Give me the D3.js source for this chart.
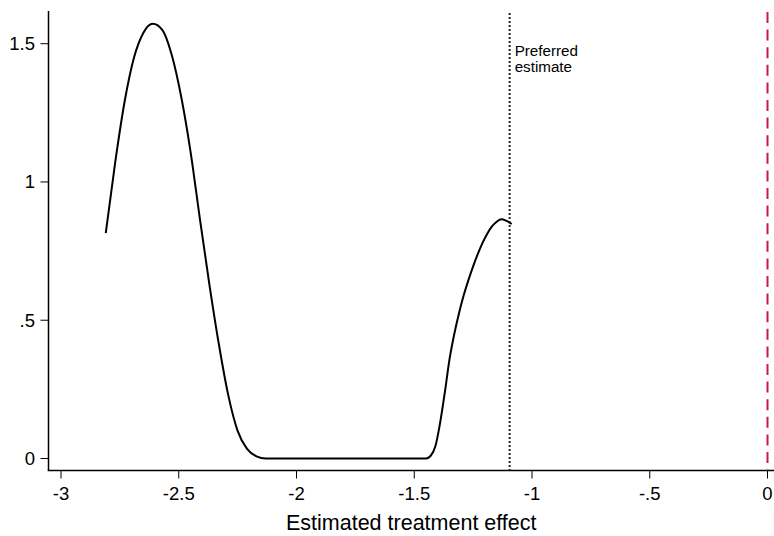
<!DOCTYPE html>
<html>
<head>
<meta charset="utf-8">
<script src="https://cdn.jsdelivr.net/npm/d3@7"></script>
<style>
  body { margin: 0; background: #fff; }
  svg { display: block; font-family: "Liberation Sans", Arial, sans-serif; }
</style>
</head>
<body>
<div id="main"></div>
<script>
// Density of estimated treatment effects
const effectX = [-2.81, -2.77, -2.73, -2.69, -2.65, -2.61, -2.57, -2.53, -2.49, -2.45,
    -2.41, -2.37, -2.33, -2.29, -2.25, -2.21, -2.17, -2.13, -1.9, -1.7,
    -1.45, -1.43, -1.41, -1.39, -1.37, -1.35, -1.33, -1.31, -1.29, -1.27,
    -1.25, -1.23, -1.21, -1.19, -1.17, -1.15, -1.13, -1.11, -1.086];
const density = [0.815, 1.07, 1.29, 1.45, 1.54, 1.572, 1.55, 1.46, 1.31, 1.11,
    0.865, 0.63, 0.415, 0.23, 0.10, 0.035, 0.008, 0, 0, 0,
    0, 0.01, 0.045, 0.13, 0.24, 0.36, 0.45, 0.525, 0.59, 0.645,
    0.695, 0.74, 0.78, 0.813, 0.839, 0.856, 0.865, 0.86, 0.848];

const xTicks = [-3, -2.5, -2, -1.5, -1, -0.5, 0];
const xTickLabels = ['-3', '-2.5', '-2', '-1.5', '-1', '-.5', '0'];
const yTicks = [0, 0.5, 1, 1.5];
const yTickLabels = ['0', '.5', '1', '1.5'];

const preferred = -1.095;
const zeroLine = 0;

const w = 774;
const h = 536;
const axisX = 48.5;
const axisY = 470.5;

const svg = d3.select('#main')
    .append('svg')
    .attr('width', w)
    .attr('height', h);

const xScale = d3.scaleLinear()
    .domain([-3, 0])
    .range([61, 767.5]);

const yScale = d3.scaleLinear()
    .domain([0, 1.5])
    .range([458.5, 43.7]);

// y axis
svg.append('line')
    .attr('x1', axisX).attr('x2', axisX)
    .attr('y1', 11).attr('y2', axisY)
    .attr('stroke', '#000').attr('stroke-width', 1.5);

svg.selectAll('.ytick')
    .data(yTicks)
    .enter()
    .append('line')
    .attr('x1', axisX - 8).attr('x2', axisX)
    .attr('y1', (d) => yScale(d)).attr('y2', (d) => yScale(d))
    .attr('stroke', '#000').attr('stroke-width', 1);

svg.selectAll('.ylab')
    .data(yTicks)
    .enter()
    .append('text')
    .attr('x', 35)
    .attr('y', (d) => yScale(d))
    .attr('dy', '0.35em')
    .attr('text-anchor', 'end')
    .style('font-size', '18.5px')
    .text((d, i) => yTickLabels[i]);

// x axis
svg.append('line')
    .attr('x1', axisX - 0.75).attr('x2', w)
    .attr('y1', axisY).attr('y2', axisY)
    .attr('stroke', '#000').attr('stroke-width', 1.5);

svg.selectAll('.xtick')
    .data(xTicks)
    .enter()
    .append('line')
    .attr('x1', (d) => xScale(d)).attr('x2', (d) => xScale(d))
    .attr('y1', axisY).attr('y2', axisY + 8)
    .attr('stroke', '#000').attr('stroke-width', 1);

svg.selectAll('.xlab')
    .data(xTicks)
    .enter()
    .append('text')
    .attr('x', (d) => xScale(d))
    .attr('y', 500)
    .attr('text-anchor', 'middle')
    .style('font-size', '18.5px')
    .text((d, i) => xTickLabels[i]);

svg.append('text')
    .attr('x', (axisX + w) / 2)
    .attr('y', 529.5)
    .attr('text-anchor', 'middle')
    .style('font-size', '21.5px')
    .text('Estimated treatment effect');

// reference lines
svg.append('line')
    .attr('x1', xScale(zeroLine)).attr('x2', xScale(zeroLine))
    .attr('y1', 12).attr('y2', axisY)
    .attr('stroke', '#c8174b').attr('stroke-width', 2)
    .attr('stroke-dasharray', '11,6.6');

svg.append('line')
    .attr('x1', xScale(preferred)).attr('x2', xScale(preferred))
    .attr('y1', 13).attr('y2', axisY)
    .attr('stroke', '#222').attr('stroke-width', 2)
    .attr('stroke-dasharray', '2,2');

const note = svg.append('text')
    .attr('x', xScale(preferred) + 5)
    .attr('y', 56)
    .style('font-size', '15.2px');
note.append('tspan').attr('x', xScale(preferred) + 5).text('Preferred');
note.append('tspan').attr('x', xScale(preferred) + 5).attr('dy', 15.5).text('estimate');

// density curve
const line = d3.line()
    .x((d, i) => xScale(effectX[i]))
    .y((d) => yScale(d))
    .curve(d3.curveMonotoneX);

svg.append('path')
    .datum(density)
    .attr('d', line)
    .attr('fill', 'none')
    .attr('stroke', '#000')
    .attr('stroke-width', 2);
</script>
</body>
</html>
